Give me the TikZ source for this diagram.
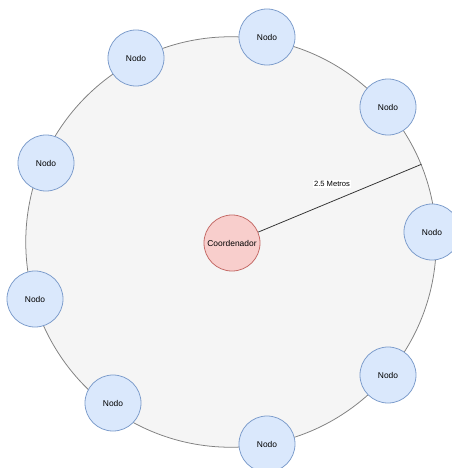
\documentclass[tikz,border=0pt]{standalone}
\usepackage{fontspec}
\setmainfont{Liberation Sans}
\usepackage{tikz}
\usetikzlibrary{calc, positioning}

\definecolor{areafundo}{HTML}{F5F5F5}
\definecolor{areaborda}{HTML}{808080}
\definecolor{nodofundo}{HTML}{DAE8FC}
\definecolor{nodoborda}{HTML}{7C9CCB}
\definecolor{coordfundo}{HTML}{F8CECC}
\definecolor{coordborda}{HTML}{C46A66}

\begin{document}
\begin{tikzpicture}[x=0.025cm, y=-0.025cm, line width=0.55pt,
    nodo/.style={circle, draw=nodoborda, fill=nodofundo, minimum size=1.4cm,
        inner sep=0pt, font=\fontsize{6}{7}\selectfont},
    coord/.style={nodo, draw=coordborda, fill=coordfundo},
    rotulo/.style={fill=white, inner sep=0.6pt, font=\fontsize{5.4}{6}\selectfont}]
    \useasboundingbox (0,0) rectangle (452,468);

    % Area de alcance
    \coordinate (centro) at (231,242);
    \draw[draw=areaborda, fill=areafundo] (centro) circle[radius=5.13cm];

    % Raio
    \node[coord] (coord) at (232,243) {Coordenador};
    \coordinate (borda) at ($(centro)+(22.2:5.14cm)$);
    \draw[black!80] (coord) -- (borda);
    \node[rotulo] (raio) at (332,184) {2.5 Metros};

    % Nodos em volta
    \foreach \x/\y [count=\i] in {267/37, 136/58, 388/107, 46/163, 432/232,
                                 35/299, 388/375, 113/403, 267/444} {
        \node[nodo] (n\i) at (\x,\y) {Nodo};
    }
\end{tikzpicture}
\end{document}
